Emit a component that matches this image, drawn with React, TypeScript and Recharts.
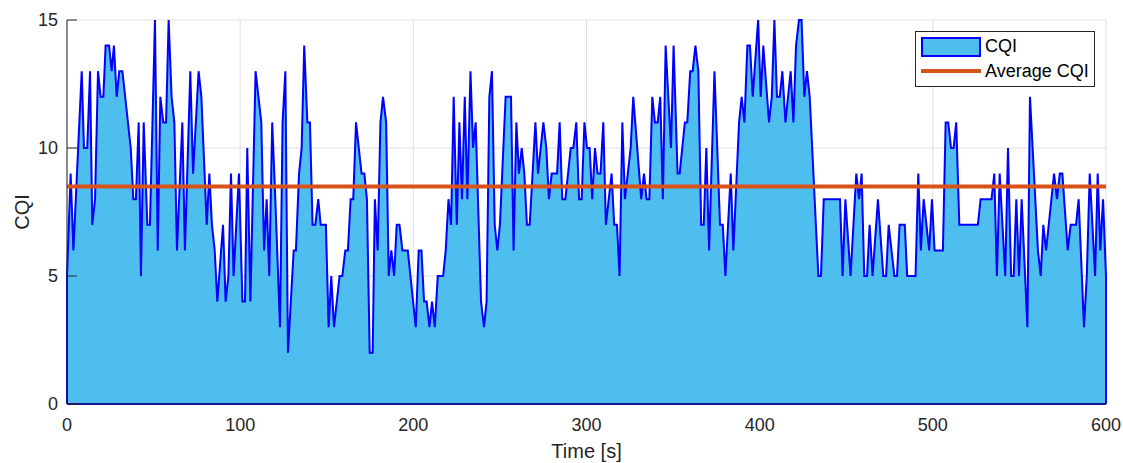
import React from 'react';
import {
  ComposedChart,
  Area,
  XAxis,
  YAxis,
  CartesianGrid,
  ReferenceLine,
} from 'recharts';

// CQI trace: [time (s), CQI], vertices of the stepped line
const CQI_TRACE: Array<[number, number]> = [
  [0, 0], [0, 5], [2.1, 9], [3.7, 6], [8.5, 13], [9.8, 10], [11.7, 10], [13.3, 13], [14.6, 7], [16.2, 8],
  [17.9, 13], [19.4, 12], [21, 12], [22.3, 14], [24.3, 14], [25.8, 13], [27.1, 14], [28.7, 12], [30.2, 13], [32, 13],
  [36.8, 10], [38.3, 8], [39.8, 8], [41.4, 11], [42.7, 5], [44.3, 11], [46.4, 7], [47.9, 7], [50.8, 15], [52.4, 6],
  [53.9, 12], [55.6, 11], [57.2, 11], [58.7, 15], [60.4, 12], [62, 11], [63.5, 6], [66.6, 11], [68.1, 6], [71.2, 13],
  [72.8, 9], [76, 13], [77.6, 12], [80.7, 7], [82.2, 9], [83.7, 7], [85.3, 6], [86.8, 4], [90.1, 7], [91.6, 4],
  [93.2, 5], [94.7, 9], [96.2, 5], [99.3, 9], [101.3, 4], [102.8, 4], [104.1, 10], [105.9, 4], [108.9, 13], [112.2, 11],
  [113.8, 6], [115.3, 8], [116.8, 5], [118.5, 11], [120.3, 8], [123, 3], [124.5, 11], [126.1, 13], [127.6, 2], [130.9, 6],
  [132.2, 6], [134, 9], [135.5, 10], [137, 14], [138.8, 11], [140.3, 11], [141.8, 7], [143.4, 7], [145.1, 8], [146.5, 7],
  [149.5, 7], [151.1, 3], [152.6, 5], [154.2, 3], [157.4, 5], [159, 5], [160.7, 6], [162.2, 6], [163.8, 8], [165.3, 8],
  [166.9, 11], [170.1, 9], [171.7, 9], [173.2, 8], [174.8, 2], [176.5, 2], [177.8, 8], [179.4, 6], [181, 11], [182.5, 12],
  [184.3, 11], [185.8, 5], [187.3, 6], [188.9, 5], [190.4, 7], [192, 7], [193.7, 6], [196.8, 6], [201.4, 3], [203.1, 6],
  [204.7, 6], [206.2, 4], [207.7, 4], [209.3, 3], [210.8, 4], [212.4, 3], [214.1, 5], [217.2, 5], [218.7, 6], [220.3, 8],
  [221.8, 7], [223.3, 12], [225.1, 7], [226.6, 11], [228.1, 8], [229.7, 12], [231.2, 8], [233, 13], [234.5, 10], [236, 11],
  [239.1, 4], [240.8, 3], [242.3, 4], [243.9, 12], [245.4, 13], [247, 7], [248.5, 6], [250, 7], [253.3, 12], [256.4, 12],
  [257.9, 6], [259.5, 11], [261, 9], [262.6, 10], [264.1, 9], [265.6, 7], [267.2, 7], [270.5, 11], [272, 9], [275.1, 11],
  [276.8, 10], [278.3, 8], [279.9, 9], [283, 9], [284.5, 11], [286, 8], [287.8, 8], [290.9, 10], [292.4, 10], [294.1, 11],
  [295.7, 8], [297.2, 8], [298.8, 11], [300.3, 10], [301.8, 10], [303.3, 8], [304.9, 10], [306.4, 9], [308.1, 9], [309.7, 11],
  [311.2, 7], [314.5, 9], [316, 7], [317.6, 7], [319.1, 5], [320.7, 11], [322.2, 8], [325.5, 10], [327, 12], [331.6, 8],
  [333.2, 9], [334.7, 8], [336.3, 8], [338, 12], [339.5, 11], [341.1, 11], [342.6, 12], [344.1, 8], [345.7, 14], [348.8, 10],
  [350.3, 14], [352.6, 9], [353.8, 9], [356.8, 11], [358.2, 11], [359.9, 13], [361.3, 13], [362.9, 14], [364.6, 13], [366.2, 7],
  [367.7, 7], [369.2, 10], [370.8, 6], [373.9, 13], [377.1, 7], [378.7, 7], [380.2, 5], [383.3, 9], [384.8, 6], [388.1, 11],
  [389.6, 12], [391.2, 11], [392.9, 14], [394.4, 14], [396, 12], [399.1, 15], [400.6, 12], [402.1, 14], [405.4, 11], [407, 12],
  [408.5, 15], [410, 12], [411.6, 12], [413.1, 13], [414.9, 11], [417.9, 13], [419.5, 11], [421, 14], [422.7, 15], [424.2, 15],
  [425.8, 12], [427.3, 13], [428.9, 12], [433.9, 5], [435.4, 5], [437, 8], [446.4, 8], [447.9, 5], [449.5, 8], [452.5, 5],
  [455.8, 9], [457.4, 8], [458.9, 9], [460.4, 5], [462, 5], [463.5, 7], [465.2, 5], [468.3, 8], [471.4, 5], [473, 5],
  [474.5, 7], [477.8, 5], [479.3, 5], [480.8, 7], [483.8, 7], [485.2, 5], [490, 5], [491.6, 9], [493.1, 6], [494.7, 8],
  [497.9, 6], [499.5, 8], [501, 6], [505.8, 6], [507.4, 11], [508.9, 11], [510.5, 10], [512, 10], [513.5, 11], [515.3, 7],
  [526, 7], [527.6, 8], [533.9, 8], [535.5, 9], [537, 5], [538.6, 9], [541.8, 5], [543.4, 10], [545.2, 5], [546.7, 5],
  [548.2, 8], [549.8, 5], [551.3, 8], [554.6, 3], [556.1, 12], [560.7, 6], [562.3, 5], [563.8, 7], [565.4, 6], [570, 9],
  [571.7, 8], [573.3, 9], [574.8, 9], [577.9, 6], [579.6, 7], [582.7, 7], [584.2, 8], [587.3, 3], [588.9, 5], [590.6, 9],
  [593.7, 5], [595.2, 9], [596.7, 6], [598.3, 8], [600, 5], [600, 0],
];

const AVG_CQI = 8.5;
const X_TICKS = [0, 100, 200, 300, 400, 500, 600];
const Y_TICKS = [0, 5, 10, 15];

const chartData = CQI_TRACE.map(([t, cqi]) => ({ t, cqi }));

const FONT = '"Liberation Sans", Arial, Helvetica, sans-serif';
const TEXT = '#262626';
const FILL = '#4dbeee';
const EDGE = '#0000ff';
const AVG = '#d95319';

const XTick = ({ x, y, payload }: any) => (
  <text x={x} y={y} textAnchor="middle" dominantBaseline="hanging" fill={TEXT} fontSize={18} fontFamily={FONT}>
    {payload.value}
  </text>
);

const YTick = ({ x, y, payload }: any) => (
  <g>
    <line x1={x + 9} x2={x + 19} y1={y} y2={y} stroke={TEXT} strokeWidth={1} />
    <text x={x} y={y} textAnchor="end" dominantBaseline="central" fill={TEXT} fontSize={18} fontFamily={FONT}>
      {payload.value}
    </text>
  </g>
);

const XTitle = ({ viewBox }: any) => (
  <text
    x={viewBox.x + viewBox.width / 2}
    y={viewBox.y + 54}
    textAnchor="middle"
    fill={TEXT}
    fontSize={20}
    fontFamily={FONT}
  >
    Time [s]
  </text>
);

const YTitle = ({ viewBox }: any) => {
  const cx = 22;
  const cy = viewBox.y + viewBox.height / 2;
  return (
    <text
      x={cx}
      y={cy}
      transform={`rotate(-90, ${cx}, ${cy})`}
      textAnchor="middle"
      dominantBaseline="central"
      fill={TEXT}
      fontSize={20}
      fontFamily={FONT}
    >
      CQI
    </text>
  );
};

const LegendBox = () => (
  <div
    style={{
      position: 'absolute',
      left: 915,
      top: 31,
      width: 178,
      height: 54,
      background: '#fff',
      border: `1px solid ${TEXT}`,
      fontFamily: FONT,
      fontSize: 18,
      color: '#000',
    }}
  >
    <div style={{ position: 'absolute', left: 5, top: 5, width: 56, height: 16, background: FILL, border: `2px solid ${EDGE}` }} />
    <div style={{ position: 'absolute', left: 69, top: 4, lineHeight: '20px' }}>CQI</div>
    <div style={{ position: 'absolute', left: 5, top: 37, width: 60, height: 4, background: AVG }} />
    <div style={{ position: 'absolute', left: 69, top: 29, lineHeight: '20px' }}>Average CQI</div>
  </div>
);

const App: React.FC = () => {
  return (
    <div style={{ position: 'relative', width: 1123, height: 463, background: '#fff' }}>
      <style>{'body { margin: 0; }'}</style>
      <ComposedChart width={1123} height={463} data={chartData} margin={{ top: 20, right: 17, left: 0, bottom: 0 }}>
        <CartesianGrid stroke="#dfdfdf" strokeWidth={1} />
        <XAxis
          type="number"
          dataKey="t"
          domain={[0, 600]}
          ticks={X_TICKS}
          height={59}
          tickLine={false}
          tickSize={0}
          tickMargin={14}
          axisLine={{ stroke: TEXT }}
          tick={<XTick />}
          label={(p: any) => <XTitle {...p} />}
        />
        <YAxis
          type="number"
          domain={[0, 15]}
          ticks={Y_TICKS}
          width={67}
          tickLine={false}
          tickSize={0}
          tickMargin={9}
          axisLine={{ stroke: TEXT }}
          tick={<YTick />}
          label={(p: any) => <YTitle {...p} />}
        />
        <Area
          type="linear"
          dataKey="cqi"
          stroke={EDGE}
          strokeWidth={2}
          fill={FILL}
          fillOpacity={1}
          baseValue={0}
          dot={false}
          activeDot={false}
          isAnimationActive={false}
        />
        <ReferenceLine y={0} stroke={EDGE} strokeWidth={2} />
        <ReferenceLine y={AVG_CQI} stroke={AVG} strokeWidth={4} />
      </ComposedChart>
      <LegendBox />
    </div>
  );
};

export default App;
